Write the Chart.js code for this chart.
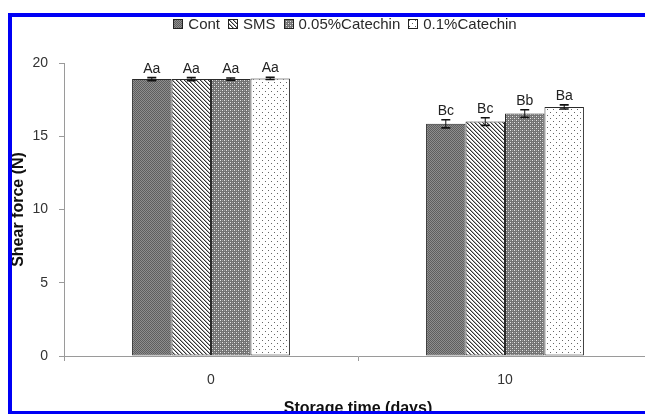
<!DOCTYPE html>
<html>
<head>
<meta charset="utf-8">
<script src="https://cdn.jsdelivr.net/npm/chart.js@4.4.1/dist/chart.umd.min.js"></script>
<style>
    html, body { margin: 0; padding: 0; background: #fff; overflow: hidden; width: 645px; height: 414px; }
    #wrap { position: relative; width: 645px; height: 414px; overflow: hidden; }
    #chart { position: absolute; left: 0; top: 0; }
    #legend {
        position: absolute; left: 0; top: 16px; width: 690px;
        display: flex; justify-content: center; align-items: center;
        font: 15px "Liberation Sans", Arial, sans-serif; line-height: 15px; color: #2a2a2a;
    }
    #legend .item { display: flex; align-items: center; margin: 0 4px; }
    #legend canvas { margin-right: 5px; }
    #frame {
        position: absolute; left: 8px; top: 13px; width: 700px; height: 401px;
        box-sizing: border-box; border-top: 4px solid #0000f5; border-left: 4px solid #0000f5;
        border-bottom: 3px solid #0000f5; pointer-events: none;
    }
</style>
</head>
<body>
<div id="wrap">
    <canvas id="chart" width="660" height="420"></canvas>
    <div id="legend"></div>
    <div id="frame"></div>
</div>
<script>
// --- DATA ---
const categories = ['0', '10'];
const seriesNames = ['Cont', 'SMS', '0.05%Catechin', '0.1%Catechin'];

const contValues = [18.9, 15.85];
const smsValues = [18.9, 16.0];
const cat005Values = [18.9, 16.55];
const cat01Values = [18.95, 17.0];

const contErrors = [0.1, 0.28];
const smsErrors = [0.1, 0.26];
const cat005Errors = [0.08, 0.26];
const cat01Errors = [0.08, 0.14];

const contLetters = ['Aa', 'Bc'];
const smsLetters = ['Aa', 'Bc'];
const cat005Letters = ['Aa', 'Bb'];
const cat01Letters = ['Aa', 'Ba'];

const yMin = 0, yMax = 20, yStep = 5;

// --- PATTERNS ---
function makePattern(size, bg, pixels) {
    const c = document.createElement('canvas');
    c.width = size; c.height = size;
    const g = c.getContext('2d');
    g.fillStyle = bg;
    g.fillRect(0, 0, size, size);
    pixels.forEach(([x, y, col]) => { g.fillStyle = col; g.fillRect(x, y, 1, 1); });
    return g.createPattern(c, 'repeat');
}

const patterns = [
    makePattern(2, '#5e5e5e', [[1, 0, '#8e8e8e'], [0, 1, '#8e8e8e']]),
    makePattern(4, '#ffffff', [[0, 0, '#333'], [1, 1, '#333'], [2, 2, '#333'], [3, 3, '#333'],
                              [1, 0, '#aaa'], [2, 1, '#aaa'], [3, 2, '#aaa'], [0, 3, '#aaa']]),
    makePattern(4, '#727272', [[0, 0, '#e6e6e6'], [2, 2, '#e6e6e6'], [2, 0, '#a0a0a0'], [0, 2, '#a0a0a0']]),
    makePattern(6, '#ffffff', [[1, 1, '#666'], [4, 4, '#666']])
];

const allValues = [contValues, smsValues, cat005Values, cat01Values];
const allErrors = [contErrors, smsErrors, cat005Errors, cat01Errors];
const allLetters = [contLetters, smsLetters, cat005Letters, cat01Letters];

// --- LEGEND (html) ---
const legendEl = document.getElementById('legend');
seriesNames.forEach((name, i) => {
    const item = document.createElement('span');
    item.className = 'item';
    const sw = document.createElement('canvas');
    sw.width = 10; sw.height = 10;
    const g = sw.getContext('2d');
    g.fillStyle = patterns[i];
    g.fillRect(0, 0, 10, 10);
    g.strokeStyle = '#222';
    g.strokeRect(0.5, 0.5, 9, 9);
    item.appendChild(sw);
    item.appendChild(document.createTextNode(name));
    legendEl.appendChild(item);
});

// --- ERROR BARS + LETTERS ---
const errorBarsPlugin = {
    id: 'errorBars',
    afterDatasetsDraw(chart) {
        const { ctx } = chart;
        const yScale = chart.scales.y;
        ctx.save();
        chart.data.datasets.forEach((ds, di) => {
            const meta = chart.getDatasetMeta(di);
            meta.data.forEach((bar, i) => {
                const v = ds.data[i];
                const e = allErrors[di][i];
                const yTop = yScale.getPixelForValue(v + e);
                const yBot = yScale.getPixelForValue(v - e);
                ctx.strokeStyle = '#111';
                ctx.lineWidth = 1;
                ctx.beginPath();
                ctx.moveTo(bar.x, yTop);
                ctx.lineTo(bar.x, yBot);
                ctx.stroke();
                ctx.lineWidth = 1.6;
                ctx.beginPath();
                ctx.moveTo(bar.x - 4.5, yTop);
                ctx.lineTo(bar.x + 4.5, yTop);
                ctx.moveTo(bar.x - 4.5, yBot);
                ctx.lineTo(bar.x + 4.5, yBot);
                ctx.stroke();

                ctx.fillStyle = '#222';
                ctx.font = '14px "Liberation Sans", Arial, sans-serif';
                ctx.textAlign = 'center';
                ctx.textBaseline = 'alphabetic';
                ctx.fillText(allLetters[di][i], bar.x, yTop - 5);
            });
        });
        ctx.restore();
    }
};

const axisColor = '#9a9a9a';
const tickFont = { family: '"Liberation Sans", Arial, sans-serif', size: 14 };
const titleFont = { family: '"Liberation Sans", Arial, sans-serif', size: 16, weight: 'bold' };

new Chart(document.getElementById('chart'), {
    type: 'bar',
    data: {
        labels: categories,
        datasets: seriesNames.map((name, i) => ({
            label: name,
            data: allValues[i],
            backgroundColor: patterns[i],
            borderColor: '#2a2a2a',
            borderWidth: 1,
            borderSkipped: false,
            categoryPercentage: 0.537,
            barPercentage: 1
        }))
    },
    options: {
        responsive: false,
        animation: false,
        devicePixelRatio: 1,
        layout: { padding: { top: 63, right: 8, bottom: 0, left: 0 } },
        plugins: { legend: { display: false }, tooltip: { enabled: false } },
        scales: {
            x: {
                grid: { display: true, drawOnChartArea: false, drawTicks: true, tickLength: 5, color: axisColor, offset: true },
                border: { display: true, color: axisColor, width: 1 },
                ticks: { color: '#333', font: tickFont, padding: 11 },
                title: { display: true, text: 'Storage time (days)', color: '#111', font: titleFont, padding: { top: 0, bottom: 2 } },
                afterFit: (scale) => { scale.height = 64; }
            },
            y: {
                min: yMin, max: yMax,
                grid: { display: true, drawOnChartArea: false, drawTicks: true, tickLength: 5, color: axisColor },
                border: { display: true, color: axisColor, width: 1 },
                ticks: { stepSize: yStep, color: '#333', font: tickFont, padding: 11 },
                title: { display: true, text: 'Shear force (N)', color: '#111', font: titleFont, padding: { top: 9, bottom: 0 } },
                afterFit: (scale) => { scale.width = 64; }
            }
        }
    },
    plugins: [errorBarsPlugin]
});
</script>
</body>
</html>
